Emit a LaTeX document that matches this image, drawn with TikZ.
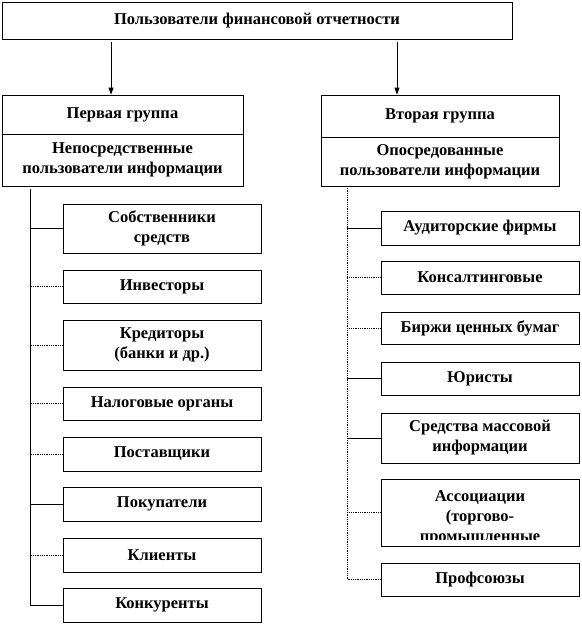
\documentclass[tikz,border=0pt]{standalone}
\usepackage{fontspec}
\setmainfont{Liberation Serif}
\usetikzlibrary{arrows.meta}
\begin{document}
\begin{tikzpicture}
[x=1pt,y=-1pt,
  boxDecorate/.style={shape=rectangle,draw,line width=0.8pt,inner sep=1pt,align=center,
    font=\bfseries\fontsize{16.5}{20}\selectfont},
  itemDecorate/.style={boxDecorate,minimum width=198pt},
  lineDecorate/.style={-,line width=0.8pt},
  dotDecorate/.style={-,line width=0.8pt,densely dotted},
  arrowDecorate/.style={-{Triangle[length=7pt,width=5pt]},line width=0.8pt}]
\useasboundingbox (0,0) rectangle (582,625);
%% top box and the two groups
\node (users) at (257,20.5) [boxDecorate,minimum width=510pt,minimum height=37pt] {Пользователи финансовой отчетности};
\node (head1) at (122.5,114.5) [boxDecorate,minimum width=241pt,minimum height=39pt] {Первая группа};
\node (sub1) at (122.5,160) [boxDecorate,minimum width=241pt,minimum height=52pt] {Непосредственные\\пользователи информации};
\node (head2) at (440,116) [boxDecorate,minimum width=238pt,minimum height=42pt] {Вторая группа};
\node (sub2) at (440,161.5) [boxDecorate,minimum width=238pt,minimum height=49pt] {Опосредованные\\пользователи информации};
%% arrows
\coordinate (a1) at (111,42);
\coordinate (a2) at (397,42);
\draw[arrowDecorate] (a1) -- (a1 |- head1.north);
\draw[arrowDecorate] (a2) -- (a2 |- head2.north);
%% first group: boxes
\foreach \nodename/\y/\h/\txt in {
  l1/228.5/49/{Собственники\\средств}, l2/286.5/33/{Инвесторы},
  l3/345/50/{Кредиторы\\(банки и др.)}, l4/403.5/33/{Налоговые органы},
  l5/454/34/{Поставщики}, l6/504/34/{Покупатели},
  l7/555/34/{Клиенты}, l8/605/34/{Конкуренты}}
{
  \node (\nodename) at (162,\y) [itemDecorate,minimum height=\h pt] {\txt};
}
%% second group: boxes
\foreach \nodename/\y/\h/\txt in {
  r1/228/34/{Аудиторские фирмы}, r2/277.5/33/{Консалтинговые},
  r3/328/32/{Биржи ценных бумаг}, r4/378.5/33/{Юристы},
  r5/438/50/{Средства массовой\\информации}, r6/512.5/67/{},
  r7/579.5/33/{Профсоюзы}}
{
  \node (\nodename) at (480,\y) [itemDecorate,minimum height=\h pt] {\txt};
}
\begin{scope}
  \clip (r6.north west) rectangle ([yshift=7pt]r6.south east);
  \node (r6text) at ([yshift=-8pt]r6.north) [anchor=north,align=center,
    font=\bfseries\fontsize{16.5}{20}\selectfont] {Ассоциации\\(торгово-\\промышленные};
\end{scope}
%% trunks
\coordinate (t1) at (30,189);
\coordinate (t2) at (347,186);
\draw[lineDecorate] (t1) |- (l8.west);
\draw[dotDecorate] (t2) |- (r7.west);
%% branches
\foreach \nodename/\style in {
  l1/lineDecorate, l2/dotDecorate, l3/dotDecorate, l4/dotDecorate,
  l5/dotDecorate, l6/lineDecorate, l7/dotDecorate}
{
  \draw[\style] (\nodename.west) -- (\nodename.west -| t1);
}
\foreach \nodename/\style in {
  r1/lineDecorate, r2/dotDecorate, r3/dotDecorate, r4/lineDecorate,
  r5/lineDecorate, r6/dotDecorate}
{
  \draw[\style] (\nodename.west) -- (\nodename.west -| t2);
}
\end{tikzpicture}
\end{document}
